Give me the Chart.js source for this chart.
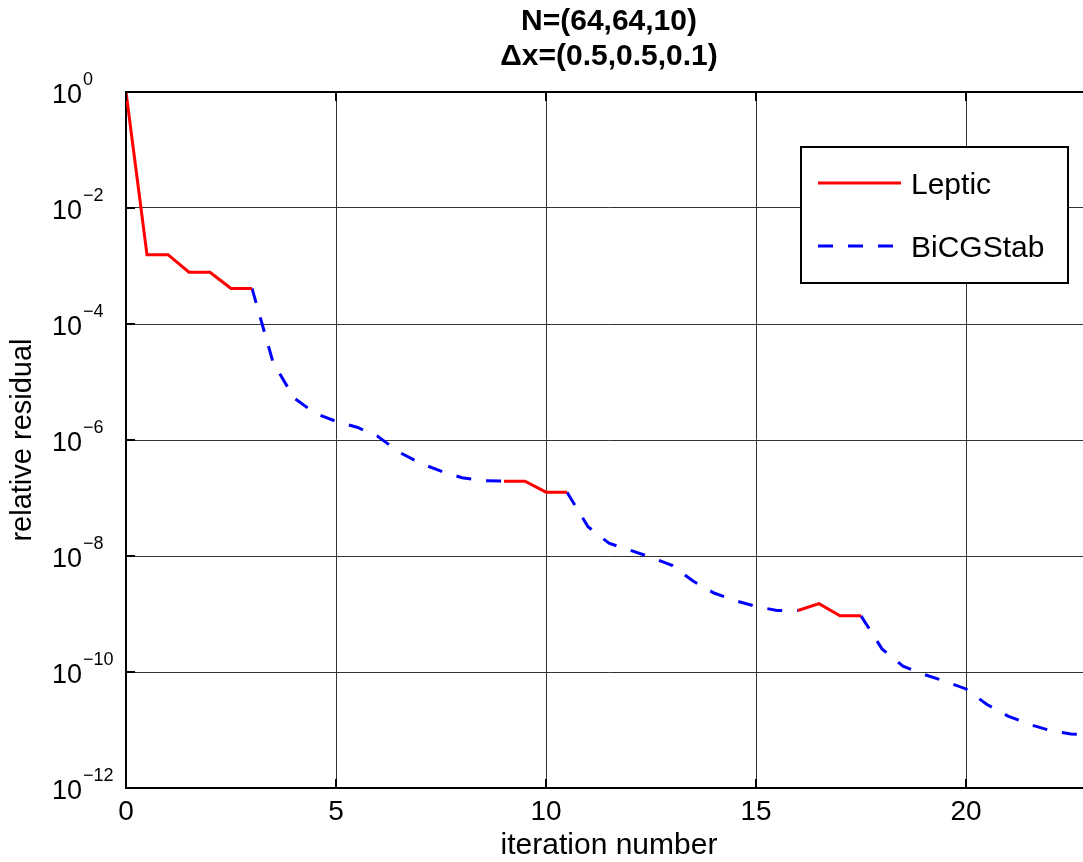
<!DOCTYPE html>
<html>
<head>
<meta charset="utf-8">
<title>relative residual</title>
<script src="https://cdn.jsdelivr.net/npm/chart.js@4.4.0/dist/chart.umd.min.js"></script>
<style>
  html, body { margin: 0; padding: 0; background: #fff; overflow: hidden; }
  #wrap { width: 1100px; height: 862px; }
</style>
</head>
<body>
<div id="wrap"><canvas id="chart" width="1100" height="862"></canvas></div>
<script>
// iteration axis (half steps)
const iterations = [0, 0.5, 1, 1.5, 2, 2.5, 3, 3.5, 4, 4.5, 5, 5.5, 6, 6.5, 7, 7.5, 8, 8.5, 9, 9.5,
  10, 10.5, 11, 11.5, 12, 12.5, 13, 13.5, 14, 14.5, 15, 15.5, 16, 16.5, 17, 17.5, 18, 18.5, 19, 19.5,
  20, 20.5, 21, 21.5, 22, 22.5, 23];

// Leptic part of the residual history (null where BiCGStab runs)
const leptic = [1, 1.57e-3, 1.57e-3, 7.8e-4, 7.8e-4, 4.1e-4, 4.1e-4, null, null, null,
  null, null, null, null, null, null, null, null, 1.95e-7, 1.95e-7,
  1.26e-7, 1.26e-7, null, null, null, null, null, null, null, null,
  null, null, 1.15e-9, 1.51e-9, 9.3e-10, 9.3e-10, null, null, null, null,
  null, null, null, null, null, null, null];

// BiCGStab part
const bicgstab = [null, null, null, null, null, null, 4.1e-4, 2.2e-5, 5.3e-6, 2.9e-6,
  2.1e-6, 1.66e-6, 1.15e-6, 6.2e-7, 4.0e-7, 2.9e-7, 2.24e-7, 2.0e-7, 1.95e-7, null,
  null, 1.26e-7, 3.2e-8, 1.66e-8, 1.26e-8, 9.5e-9, 6.9e-9, 3.7e-9, 2.3e-9, 1.7e-9,
  1.35e-9, 1.15e-9, 1.15e-9, null, null, 9.3e-10, 2.5e-10, 1.26e-10, 9.1e-11, 6.9e-11,
  5.1e-11, 2.75e-11, 1.74e-11, 1.26e-11, 9.8e-12, 8.5e-12, 8.3e-12];

const xTicks = [0, 5, 10, 15, 20];
const yTickExponents = [0, -2, -4, -6, -8, -10, -12];
const titleLines = ['N=(64,64,10)', '\u0394x=(0.5,0.5,0.1)'];

const FONT = "'Liberation Sans', Arial, Helvetica, sans-serif";
Chart.defaults.font.family = FONT;
Chart.defaults.color = '#000';

const toPoints = (ys) => iterations.map((x, i) => ({ x, y: ys[i] }));

// title, boxed axes, inward ticks, 10^n labels and the legend box
const matlabDecor = {
  id: 'matlabDecor',
  afterDraw(chart) {
    const { ctx, chartArea: a, scales: { x, y } } = chart;
    ctx.save();

    ctx.strokeStyle = '#000';
    ctx.lineWidth = 2;
    ctx.beginPath();
    ctx.moveTo(a.left, a.top);
    ctx.lineTo(a.right, a.top);
    ctx.lineTo(a.right, a.bottom);
    ctx.stroke();

    // inward tick marks
    ctx.beginPath();
    yTickExponents.forEach(e => {
      const py = Math.round(y.getPixelForValue(Math.pow(10, e)));
      ctx.moveTo(a.left, py); ctx.lineTo(a.left + 9, py);
      ctx.moveTo(a.right, py); ctx.lineTo(a.right - 9, py);
    });
    xTicks.forEach(v => {
      const px = Math.round(x.getPixelForValue(v));
      ctx.moveTo(px, a.bottom); ctx.lineTo(px, a.bottom - 9);
      ctx.moveTo(px, a.top); ctx.lineTo(px, a.top + 9);
    });
    ctx.stroke();

    // y tick labels with superscript exponent
    ctx.fillStyle = '#000';
    ctx.textAlign = 'left';
    ctx.textBaseline = 'alphabetic';
    yTickExponents.forEach(e => {
      const py = y.getPixelForValue(Math.pow(10, e));
      ctx.font = `27px ${FONT}`;
      ctx.fillText('10', 52, py + 11);
      const w = ctx.measureText('10').width;
      ctx.font = `18px ${FONT}`;
      ctx.fillText(e === 0 ? '0' : '\u2212' + Math.abs(e), 52 + w + 1, py - 7);
    });

    // title
    ctx.font = `bold 30px ${FONT}`;
    ctx.textAlign = 'center';
    const cx = (a.left + a.right) / 2;
    ctx.fillText(titleLines[0], cx, 30);
    ctx.fillText(titleLines[1], cx, 65);

    // legend
    const bx = a.right - 291, by = a.top + 55, bw = 267, bh = 136;
    ctx.fillStyle = '#fff';
    ctx.fillRect(bx, by, bw, bh);
    ctx.strokeStyle = '#000';
    ctx.lineWidth = 2;
    ctx.strokeRect(bx, by, bw, bh);
    chart.data.datasets.forEach((ds, i) => {
      const ly = by + 36 + i * 63;
      ctx.strokeStyle = ds.borderColor;
      ctx.lineWidth = ds.borderWidth;
      ctx.setLineDash(ds.borderDash || []);
      ctx.beginPath();
      ctx.moveTo(bx + 17, ly);
      ctx.lineTo(bx + 100, ly);
      ctx.stroke();
      ctx.setLineDash([]);
      ctx.fillStyle = '#000';
      ctx.font = `30px ${FONT}`;
      ctx.textAlign = 'left';
      ctx.fillText(ds.label, bx + 110, ly + 11);
    });

    ctx.restore();
  }
};

new Chart(document.getElementById('chart'), {
  type: 'line',
  data: {
    datasets: [
      {
        label: 'Leptic',
        data: toPoints(leptic),
        borderColor: '#ff0000',
        borderWidth: 3,
        pointRadius: 0,
        tension: 0
      },
      {
        label: 'BiCGStab',
        data: toPoints(bicgstab),
        borderColor: '#0000ff',
        borderWidth: 3,
        borderDash: [15, 15],
        pointRadius: 0,
        tension: 0
      }
    ]
  },
  options: {
    responsive: false,
    animation: false,
    devicePixelRatio: 1,
    events: [],
    layout: { padding: { top: 92, right: 8, left: 0, bottom: 0 } },
    plugins: {
      legend: { display: false },
      tooltip: { enabled: false },
      title: { display: false }
    },
    scales: {
      x: {
        type: 'linear',
        min: 0,
        max: 23,
        afterBuildTicks: s => { s.ticks = xTicks.map(v => ({ value: v })); },
        afterFit: s => { s.height = 74; },
        ticks: { font: { size: 28 }, color: '#000', padding: 7, maxRotation: 0, autoSkip: false },
        grid: { color: '#333', lineWidth: 1, drawTicks: false },
        border: { color: '#000', width: 2 },
        title: { display: true, text: 'iteration number', color: '#000', font: { size: 30, lineHeight: 1.1 }, padding: 0 }
      },
      y: {
        type: 'logarithmic',
        min: 1e-12,
        max: 1,
        afterBuildTicks: s => { s.ticks = yTickExponents.map(e => ({ value: Math.pow(10, e) })); },
        afterFit: s => { s.width = 126; },
        ticks: { display: false },
        grid: { color: '#333', lineWidth: 1, drawTicks: false },
        border: { color: '#000', width: 2 },
        title: { display: true, text: 'relative residual', color: '#000', font: { size: 29, lineHeight: 1.1 }, padding: { top: 7, bottom: 0 } }
      }
    }
  },
  plugins: [matlabDecor]
});
</script>
</body>
</html>
